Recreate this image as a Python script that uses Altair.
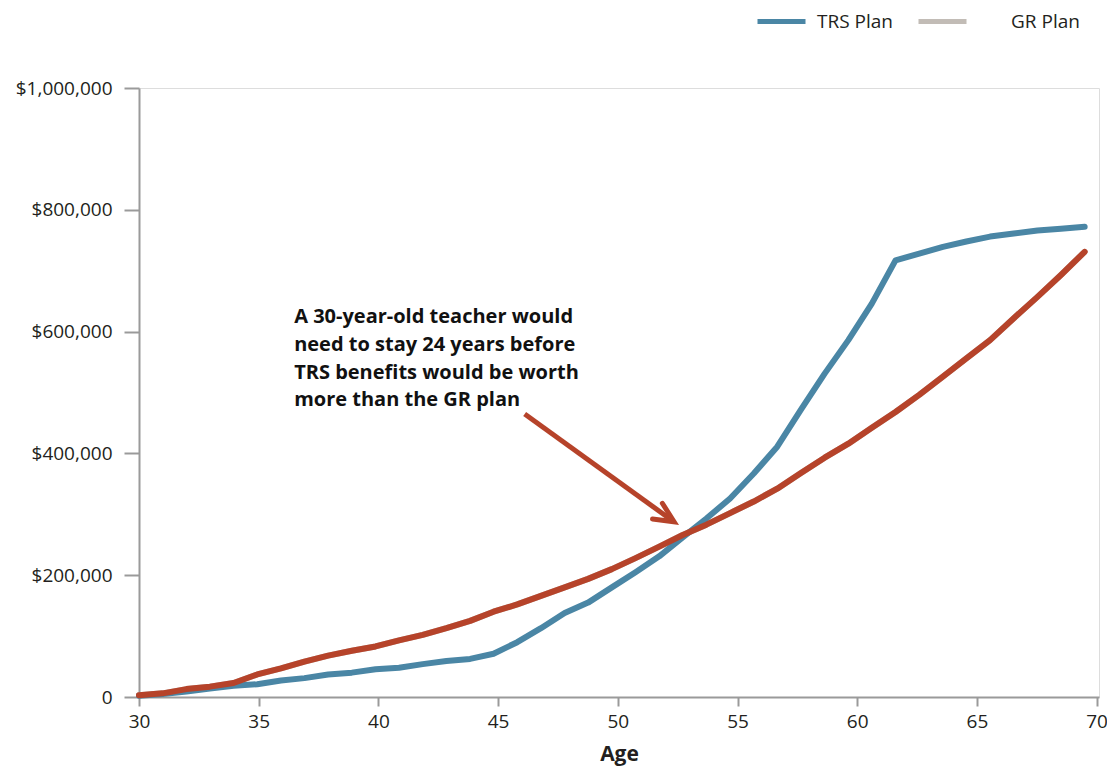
import altair as alt
import pandas as pd

# Ages at which each value is plotted
ages = [30.00, 30.99, 31.98, 32.96, 33.95, 34.94, 35.93, 36.91, 37.90, 38.89,
        39.88, 40.86, 41.85, 42.84, 43.83, 44.81, 45.80, 46.79, 47.78, 48.76,
        49.75, 50.74, 51.73, 52.71, 53.70, 54.69, 55.68, 56.66, 57.65, 58.64,
        59.63, 60.61, 61.60, 62.59, 63.58, 64.56, 65.55, 66.54, 67.53, 68.51,
        69.50]

trs_plan = [2000, 5000, 9000, 14000, 18500, 21000, 27000, 31000, 37000, 40000,
            45500, 48000, 54000, 59000, 62500, 71000, 90000, 113000, 138000, 155000,
            180000, 205000, 231000, 262000, 293000, 326000, 367000, 411000, 472000, 531000,
            586000, 646000, 717000, 728000, 739000, 748000, 756000, 761000, 766000, 769000,
            772000]

gr_plan = [3000, 6000, 13000, 17000, 23000, 37000, 47000, 58000, 68000, 76000,
           83000, 93000, 102000, 113000, 125000, 140000, 152000, 166000, 180000, 194000,
           210000, 228000, 247000, 266000, 283000, 302000, 321000, 342000, 368000, 393000,
           416000, 442000, 468000, 496000, 526000, 556000, 586000, 622000, 657000, 693000,
           731000]

series_names = ["TRS Plan", "GR Plan"]
y_ticks = [0, 200000, 400000, 600000, 800000, 1000000]
x_ticks = [30, 35, 40, 45, 50, 55, 60, 65, 70]

annotation_lines = ["A 30-year-old teacher would",
                    "need to stay 24 years before",
                    "TRS benefits would be worth",
                    "more than the GR plan"]
annotation_age = [36.48]
annotation_val = [614000]

arrow_shaft_age = [46.11, 52.30]
arrow_shaft_val = [464700, 289000]
arrow_head_age = [51.86, 52.35, 51.45]
arrow_head_val = [318100, 287800, 292300]

BLUE = "#4a86a5"
RED = "#b6432a"
GRAY = "#c2bcb6"
AXIS_GRAY = "#9a9a9a"
TEXT = "#231f20"

n = len(ages)
trs_df = pd.DataFrame({"age": ages, "value": trs_plan, "plan": [series_names[0]] * n,
                       "order": list(range(n))})
gr_df = pd.DataFrame({"age": ages, "value": gr_plan, "plan": [series_names[1]] * n,
                      "order": list(range(n))})

x_scale = alt.Scale(domain=[30, 70.1], nice=False, zero=False)
y_scale = alt.Scale(domain=[0, 1000000], nice=False)

x_axis = alt.Axis(values=x_ticks, title="Age", grid=False, domainColor=AXIS_GRAY,
                  domainWidth=2, tickColor=AXIS_GRAY, tickWidth=2, tickSize=9,
                  labelFlush=False,
                  labelFont="Open Sans", labelFontSize=19, labelColor=TEXT,
                  labelPadding=6, titleFont="Open Sans", titleFontSize=21,
                  titleFontWeight="bold", titleColor=TEXT, titlePadding=12)
y_axis = alt.Axis(values=y_ticks, title=None, grid=False, domainColor=AXIS_GRAY,
                  domainWidth=2, tickColor=AXIS_GRAY, tickWidth=2, tickSize=15,
                  labelFont="Open Sans", labelFontSize=19, labelColor=TEXT,
                  labelPadding=12,
                  labelExpr="datum.value == 0 ? '0' : '$' + format(datum.value, ',')")

legend_common = dict(title=None, orient="none", direction="horizontal", legendY=-93,
                     symbolType="stroke", symbolSize=2304, symbolStrokeWidth=5,
                     labelFont="Open Sans", labelFontSize=19, labelColor=TEXT)

trs_line = alt.Chart(trs_df).mark_line(strokeWidth=6, strokeCap="round", strokeJoin="round").encode(
    x=alt.X("age:Q", scale=x_scale, axis=x_axis),
    y=alt.Y("value:Q", scale=y_scale, axis=y_axis),
    order="order:Q",
    color=alt.Color("plan:N",
                    scale=alt.Scale(domain=[series_names[0]], range=[BLUE]),
                    legend=alt.Legend(legendX=616, labelOffset=9, **legend_common)),
)

gr_legend_line = alt.Chart(gr_df).mark_line(strokeWidth=6, strokeCap="round",
                                            strokeJoin="round").encode(
    x=alt.X("age:Q", scale=x_scale),
    y=alt.Y("value:Q", scale=y_scale),
    order="order:Q",
    stroke=alt.Stroke("plan:N",
                      scale=alt.Scale(domain=[series_names[1]], range=[GRAY]),
                      legend=alt.Legend(legendX=777, labelOffset=42, **legend_common)),
)

gr_line = alt.Chart(gr_df).mark_line(strokeWidth=6, strokeCap="round", strokeJoin="round",
                                     color=RED).encode(
    x=alt.X("age:Q", scale=x_scale),
    y=alt.Y("value:Q", scale=y_scale),
    order="order:Q",
)

shaft = alt.Chart(pd.DataFrame({"age": arrow_shaft_age, "value": arrow_shaft_val,
                                "o": [0, 1]})).mark_line(
    strokeWidth=5, color=RED).encode(
    x=alt.X("age:Q", scale=x_scale), y=alt.Y("value:Q", scale=y_scale), order="o:Q")

head = alt.Chart(pd.DataFrame({"age": arrow_head_age, "value": arrow_head_val,
                               "o": [0, 1, 2]})).mark_line(
    strokeWidth=5, color=RED, strokeJoin="miter", strokeCap="round").encode(
    x=alt.X("age:Q", scale=x_scale), y=alt.Y("value:Q", scale=y_scale), order="o:Q")

note = alt.Chart(pd.DataFrame({"age": annotation_age, "value": annotation_val,
                               "t": [annotation_lines]})).mark_text(
    align="left", baseline="alphabetic", font="Open Sans",
    fontSize=20, fontWeight="bold", color="#111111", lineHeight=27.8).encode(
    x=alt.X("age:Q", scale=x_scale), y=alt.Y("value:Q", scale=y_scale), text="t")

chart = alt.layer(gr_legend_line, trs_line, gr_line, shaft, head, note).properties(
    width=960, height=609,
    autosize=alt.AutoSizeParams(type="none"),
    padding={"left": 131, "top": 80, "right": 8, "bottom": 70},
).configure_view(stroke=None).configure(background="white")

chart.save("out.html", embed_options={"renderer": "svg", "actions": False})
